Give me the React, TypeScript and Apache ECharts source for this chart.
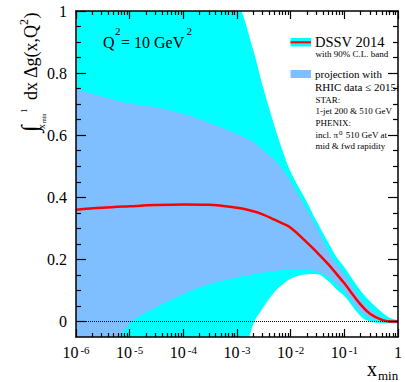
import React, { useEffect, useRef } from "react";
import * as echarts from "echarts";

// shared x grid (x_min values)
const xGrid = [1e-6, 3e-6, 1e-5, 3e-5, 1e-4, 3e-4, 1e-3, 2e-3, 3e-3, 5e-3, 7e-3, 1e-2, 2e-2, 3e-2, 5e-2, 7e-2, 0.1, 0.2, 0.3, 0.5, 0.7, 1];
// DSSV 2014 90% C.L. band
const dssvUpper = [2.0, 1.85, 1.7, 1.55, 1.4, 1.23, 1.04, 0.875, 0.76, 0.63, 0.553, 0.482, 0.385, 0.325, 0.255, 0.21, 0.175, 0.1, 0.065, 0.03, 0.012, 0.004];
const dssvLower = [-1.6, -1.4, -1.2, -1.0, -0.8, -0.5, -0.2, -0.01, 0.042, 0.095, 0.118, 0.138, 0.152, 0.153, 0.13, 0.105, 0.082, 0.018, 0.0, -0.005, -0.006, -0.006];
// projection band with RHIC data
const projUpper = [0.748, 0.725, 0.703, 0.69, 0.668, 0.64, 0.603, 0.578, 0.553, 0.52, 0.49, 0.45, 0.36, 0.305, 0.228, 0.188, 0.152, 0.072, 0.042, 0.012, 0.003, 0.0];
const projLower = [-0.3, -0.14, -0.008, 0.044, 0.088, 0.12, 0.142, 0.152, 0.157, 0.162, 0.166, 0.169, 0.168, 0.162, 0.144, 0.122, 0.098, 0.031, 0.012, 0.002, 0.0, 0.0];
// DSSV 2014 central value
const central = [0.36, 0.366, 0.371, 0.375, 0.377, 0.376, 0.366, 0.355, 0.345, 0.328, 0.316, 0.302, 0.255, 0.225, 0.185, 0.155, 0.123, 0.055, 0.025, 0.005, 0.0, 0.0];

const xMajor = [1e-6, 1e-5, 1e-4, 1e-3, 1e-2, 1e-1, 1];
const xMinor: number[] = [];
for (const d of [1e-6, 1e-5, 1e-4, 1e-3, 1e-2, 1e-1]) for (let k = 2; k <= 9; k++) xMinor.push(+(d * k).toPrecision(3));
const yMajor = [0, 0.2, 0.4, 0.6, 0.8, 1];
const yMinor = [0.05, 0.1, 0.15, 0.25, 0.3, 0.35, 0.45, 0.5, 0.55, 0.65, 0.7, 0.75, 0.85, 0.9, 0.95];

const SERIF = "Liberation Serif";
const CYAN = "#00ffff";
const BLUE = "#80bfff";

const pairs = (ys: number[]) => xGrid.map((x, i) => [x, ys[i]]);

export default function App() {
  const ref = useRef<HTMLDivElement>(null);
  useEffect(() => {
    const chart = echarts.init(ref.current!, null, { renderer: "svg" });
    const lineAxisStyle = { lineStyle: { color: "#000", width: 1.5 } };
    const xBase = (pos: string, major: boolean, showLine: boolean) => ({
      type: "log",
      logBase: 10,
      min: 1e-6,
      max: 1,
      position: pos,
      z: 5,
      axisLine: { show: showLine, onZero: false, ...lineAxisStyle },
      axisTick: {
        show: true,
        inside: true,
        length: major ? 8 : 4,
        customValues: major ? xMajor : xMinor,
        lineStyle: { color: "#000", width: 1.2 },
      },
      splitLine: { show: false },
      minorTick: { show: false },
      axisLabel: { show: false },
    });
    const yBase = (pos: string, major: boolean, showLine: boolean) => ({
      type: "value",
      min: -0.05,
      max: 1,
      position: pos,
      z: 5,
      axisLine: { show: showLine, onZero: false, ...lineAxisStyle },
      axisTick: {
        show: true,
        inside: true,
        length: major ? 10 : 5,
        customValues: major ? yMajor : yMinor,
        lineStyle: { color: "#000", width: 1.2 },
      },
      splitLine: { show: false },
      axisLabel: { show: false },
    });
    const xBottom: any = xBase("bottom", true, true);
    xBottom.axisLabel = {
      show: true,
      customValues: xMajor,
      margin: 7,
      formatter: (v: number) => {
        const e = Math.round(Math.log10(v));
        return e === 0 ? "{b|1}" : `{b|10}{s|${e}}`;
      },
      rich: {
        b: { fontFamily: SERIF, fontSize: 16, color: "#000", verticalAlign: "bottom", lineHeight: 16 },
        s: { fontFamily: SERIF, fontSize: 11, color: "#000", verticalAlign: "top", lineHeight: 11, padding: [0, 0, 8, 2] },
      },
    };
    const yLeft: any = yBase("left", true, true);
    yLeft.axisLabel = {
      show: true,
      customValues: yMajor,
      margin: 9,
      fontFamily: SERIF,
      fontSize: 16,
      color: "#000",
    };
    const area = (ys: number[], color: string) => ({
      type: "line",
      data: pairs(ys),
      smooth: 0.4,
      showSymbol: false,
      symbol: "none",
      clip: true,
      lineStyle: { width: 0, color },
      areaStyle: { color, opacity: 1, origin: "start" },
      silent: true,
    });
    const txt = (text: string, x: number, y: number, size: number, extra: any = {}) => ({
      type: "text",
      x,
      y,
      z: 100,
      style: { text, fontFamily: SERIF, fontSize: size, fill: "#000", verticalAlign: "middle", align: "left", ...extra },
    });
    chart.setOption({
      animation: false,
      grid: { left: 76, right: 3, top: 11, bottom: 45, containLabel: false },
      xAxis: [xBottom, xBase("bottom", false, false), xBase("top", true, true), xBase("top", false, false)],
      yAxis: [yLeft, yBase("left", false, false), yBase("right", true, true), yBase("right", false, false)],
      series: [
        area(dssvUpper, CYAN),
        area(projUpper, BLUE),
        area(projLower, CYAN),
        area(dssvLower, "#ffffff"),
        {
          type: "line",
          data: pairs(central),
          smooth: 0.4,
          showSymbol: false,
          symbol: "none",
          clip: true,
          lineStyle: { color: "#ff0000", width: 2.5 },
          markLine: {
            silent: true,
            symbol: ["none", "none"],
            label: { show: false },
            lineStyle: { type: "dotted", color: "#000", width: 1 },
            data: [{ yAxis: 0 }],
          },
        },
      ],
      graphic: [
        // Q^2 label
        txt("Q", 103, 42.6, 16),
        txt("2", 115, 31, 11),
        txt("= 10 GeV", 121, 42.6, 16),
        txt("2", 186.5, 31, 11),
        // legend
        { type: "rect", z: 100, shape: { x: 290.5, y: 38, width: 20.5, height: 8.5 }, style: { fill: CYAN } },
        { type: "line", z: 101, shape: { x1: 290.5, y1: 42.3, x2: 311, y2: 42.3 }, style: { stroke: "#ff0000", lineWidth: 2 } },
        txt("DSSV 2014", 315, 41.9, 14.5),
        txt("with 90% C.L. band", 315.5, 53.6, 9),
        { type: "rect", z: 100, shape: { x: 290.5, y: 70, width: 20.5, height: 8 }, style: { fill: BLUE } },
        txt("projection with", 315, 74, 11),
        txt("RHIC data ≤ 2015:", 315, 86.6, 11),
        txt("STAR:", 315.5, 99.8, 9),
        txt("1-jet 200 & 510 GeV", 315.5, 111.3, 9),
        txt("PHENIX:", 315.5, 122.8, 9),
        {
          type: "text",
          x: 315.5,
          y: 134.3,
          z: 100,
          style: {
            text: "{m|incl. π}{s|0}{m| 510 GeV at}",
            fontFamily: SERIF,
            verticalAlign: "middle",
            rich: {
              m: { fontFamily: SERIF, fontSize: 9, fill: "#000", color: "#000", verticalAlign: "bottom", lineHeight: 10 },
              s: { fontFamily: SERIF, fontSize: 7, fill: "#000", color: "#000", verticalAlign: "top", lineHeight: 7, padding: [0, 1, 6, 1] },
            },
          },
        },
        txt("mid & fwd rapidity", 315.5, 145.8, 9),
        // x title
        txt("x", 367, 368.5, 20),
        txt("min", 378, 375.5, 13),
        // y title (rotated)
        {
          type: "group",
          x: 37,
          y: 132,
          rotation: Math.PI / 2,
          z: 100,
          children: [
            txt("∫", 0, -7.5, 24),
            txt("1", 19, -13, 9),
            txt("x", 3, 4, 10),
            txt("min", 9, 7, 6),
            txt("dx", 32, -6.1, 18),
            txt("Δg(x,Q", 54, -6.1, 18),
            txt("2", 107, -13, 12),
            txt(")", 113.5, -6.1, 18),
          ],
        },
      ],
    });
    return () => chart.dispose();
  }, []);
  return <div ref={ref} style={{ position: "absolute", left: 0, top: 0, width: 405, height: 382 }} />;
}
